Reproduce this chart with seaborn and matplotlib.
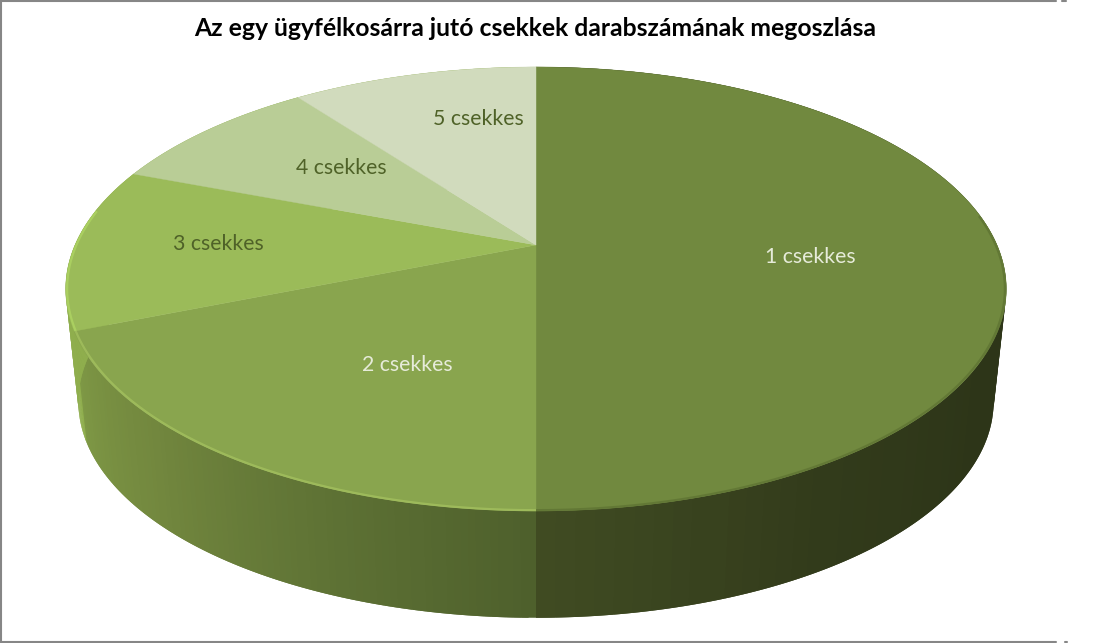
import numpy as np
import matplotlib
matplotlib.use("Agg")
import matplotlib.pyplot as plt
import seaborn as sns

TITLE = "Az egy ügyfélkosárra jutó csekkek darabszámának megoszlása"
labels = ["1 csekkes", "2 csekkes", "3 csekkes", "4 csekkes", "5 csekkes"]
shares = [50.0, 18.9, 11.9, 9.0, 10.2]

top_colors = ["#71893f", "#89a54e", "#9bbb59", "#b9cd96", "#d1dbbd"]
label_colors = ["#e6ebd9", "#e6ebd9", "#4f6228", "#4f6228", "#4f6228"]
label_xy = [(810, 257), (407, 365), (218, 244), (341, 168), (478, 119)]
side_stops = [
    ["#2d3518", "#2d3518", "#2d3518", "#2d3518", "#2d3518", "#323b1b", "#404b22"],
    ["#4e602c", "#5f7335", "#72873e", "#7e9845"],
    ["#8fae4d", "#8fae4d"],
    ["#8fae4d", "#8fae4d"],
    ["#8fae4d", "#8fae4d"],
]
rim_colors = ["#5f7433", "#a3c05e", "#aed562"]

sns.set_theme(style="white")
plt.rcParams["font.family"] = ["Lato", "DejaVu Sans"]

# pie perspective, in pixels
CX, CY = 536, 245
A, B, K = 461, 213.3, 0.198
DEPTH, SHRINK = 114, 0.973


def project(t, scale=1.0, drop=0.0):
    w = 1 + K * np.sin(t)
    return CX + scale * A * np.cos(t) / w, CY + drop - scale * B * np.sin(t) / w


def slice_angles(values):
    # clockwise from 12 o'clock
    edges = 90 - np.cumsum([0] + list(values)) / sum(values) * 360
    return np.radians(edges)


fig, ax = plt.subplots(figsize=(11.07, 6.43), dpi=100)
ax.set_position([0, 0, 1, 1])
ax.set_xlim(0, 1107)
ax.set_ylim(643, 0)
ax.axis("off")

edges = slice_angles(shares)

# side wall, cut in thin strips to get the gradient
# each strip runs under the next one so no seams show
for i in range(len(shares)):
    n = 90
    ts = np.linspace(edges[i], edges[i + 1], n + 1)
    step = ts[1] - ts[0]
    pal = sns.blend_palette(side_stops[i], n_colors=n)
    for j in range(n):
        seg = np.linspace(ts[j], ts[j + 1] + step, 4)
        if j == n - 1 and i == 0:
            seg = np.linspace(ts[j], ts[j + 1], 4)
        x1, y1 = project(seg)
        x2, y2 = project(seg[::-1], SHRINK, DEPTH)
        ax.fill(np.r_[x1, x2], np.r_[y1, y2], color=pal[j], lw=0, zorder=2)

# top faces
for i, col in enumerate(top_colors):
    ts = np.linspace(edges[i], edges[i + 1], 240)
    x, y = project(ts)
    ax.fill(np.r_[CX, x], np.r_[CY, y], color=col, lw=0.3, zorder=3)

# bevel along the front edge
rim_ranges = [(edges[1], np.radians(8)), (edges[2], edges[1]), (edges[3] + 0.2, edges[2])]
for i, (t0, t1) in enumerate(rim_ranges):
    x, y = project(np.linspace(t0, t1, 240), 0.997)
    ax.plot(x, y, color=rim_colors[i], lw=1.6, alpha=0.8, solid_capstyle="butt", zorder=4)

for name, col, (x, y) in zip(labels, label_colors, label_xy):
    ax.text(x, y, name, color=col, fontsize=15.3, ha="center", va="center", zorder=5)

ax.text(535, 29, TITLE, color="black", fontsize=17.8, fontweight="bold", ha="center", va="center")

# chart frame, cut short on the right
frame = "#868686"
ax.plot([0.5, 0.5], [0, 643], color=frame, lw=1.5, zorder=6)
ax.plot([0, 1056], [0.5, 0.5], color=frame, lw=1.5, zorder=6)
ax.plot([1062, 1066], [0.5, 0.5], color=frame, lw=1.5, zorder=6)
ax.plot([0, 1056], [642.2, 642.2], color=frame, lw=1.5, zorder=6)
ax.plot([1065, 1067], [642.2, 642.2], color=frame, lw=1.5, zorder=6)

fig.savefig("out.png", dpi=100, facecolor="white")
